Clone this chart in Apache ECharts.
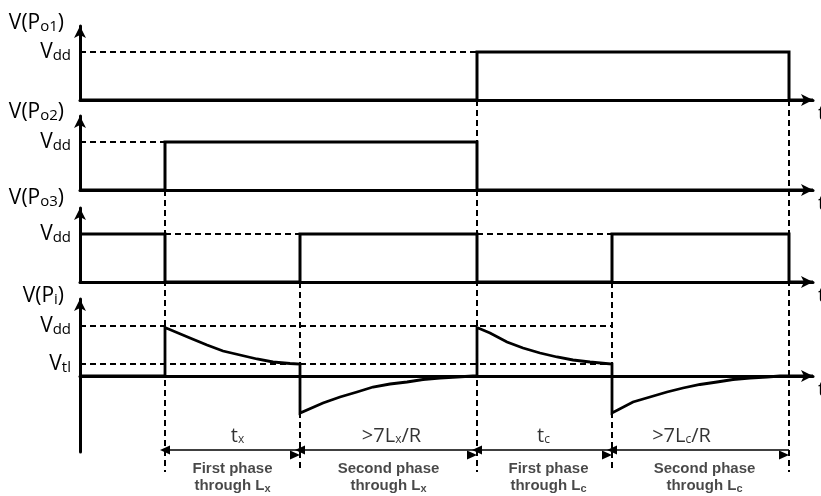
<!DOCTYPE html>
<html><head><meta charset="utf-8">
<script src="https://cdn.jsdelivr.net/npm/echarts@6/dist/echarts.min.js"></script>
<style>html,body{margin:0;padding:0;background:#fff;} #c{width:821px;height:496px;}</style>
</head><body><div id="c"></div>
<script>
// ---------------- data ----------------
const tEdges = [85, 220, 397, 532, 709];   // switching instants
const tEnd = 733;
const VDD = 1, VTL = 0.24;
const panelSubs = ['o1', 'o2', 'o3', 'i'];
const panelLevels = [[VDD], [VDD], [VDD], [VTL, VDD]];
const levelSubs = { '1': 'dd', '0.24': 'tl' };

const po1 = [[0,0],[397,0],[397,1],[709,1],[709,0],[733,0]];
const po2 = [[0,0],[85,0],[85,1],[397,1],[397,0],[733,0]];
const po3 = [[0,1],[85,1],[85,0],[220,0],[220,1],[397,1],[397,0],[532,0],[532,1],[709,1],[709,0],[733,0]];
const pi  = [[0,0],[85,0],[85,0.97],[110,0.76],[127,0.62],[143,0.5],[160,0.42],[177,0.34],[193,0.28],[210,0.25],[220,0.24],
  [220,-0.74],[243,-0.54],[260,-0.42],[277,-0.32],[293,-0.22],[310,-0.16],[327,-0.12],[343,-0.07],[360,-0.04],[377,-0.02],[393,0],
  [397,0],[397,0.97],[410,0.86],[427,0.68],[443,0.56],[460,0.46],[477,0.38],[493,0.32],[510,0.28],[532,0.24],
  [532,-0.74],[553,-0.52],[570,-0.42],[587,-0.32],[603,-0.24],[620,-0.17],[637,-0.12],[653,-0.07],[670,-0.04],[687,-0.02],[700,0],[733,0]];
const waves = [po1, po2, po3, pi];

// dashed reference levels: [panel, level, tFrom, tTo]
const refDash = [[0,VDD,0,397],[1,VDD,0,85],[2,VDD,85,220],[2,VDD,397,532],[3,VDD,0,532],[3,VTL,0,532]];
// vertical guides: [t, panel whose baseline they start from]
const guides = [[85,1],[220,2],[397,0],[532,2],[709,0]];
const spanLabels = ['t{s|x}', '>7L{s|x}/R', 't{s|c}', '>7L{s|c}/R'];
const captionTop = ['First phase', 'Second phase', 'First phase', 'Second phase'];
const captionBottom = ['through L{s|x}', 'through L{s|x}', 'through L{s|c}', 'through L{s|c}'];

// ---------------- layout / style ----------------
const FONT = 'Open Sans';
const layout = [
  { base: 100, scale: 48, yMin: 0, nameGap: 3 },
  { base: 190, scale: 48, yMin: 0, nameGap: 4 },
  { base: 282, scale: 48, yMin: 0, nameGap: 10 },
  { base: 376, scale: 50, yMin: -1.52, nameGap: 3 }
];
const yMax = 1.54;
const LEFT = 80, RIGHT = 8, H = 496;
const rows = { dim: 450, spanText: 436, cap1: 469, cap2: 486, guideEnd: 472 };
const spanDx = [5, 3, -1, -19];
const capDx = [0, 0, 4, 4];
const AX = { color: '#000', width: 3 };
const DASH = { color: '#000', width: 2, type: [6, 4] };

const grids = layout.map(p => ({ left: LEFT, right: RIGHT, top: p.base - yMax * p.scale, height: (yMax - p.yMin) * p.scale, outerBoundsMode: 'none', containLabel: false }));
grids.push({ left: LEFT, right: RIGHT, top: 0, height: H, outerBoundsMode: 'none', containLabel: false });
const OV = 4;

const subRichL = { s: { fontFamily: FONT, fontSize: 15, lineHeight: 15, verticalAlign: 'bottom', color: '#000' } };

const xAxes = layout.map((p, k) => ({
  gridIndex: k, type: 'value', min: 0, max: tEnd,
  axisLine: { show: true, onZero: true, symbol: ['none', 'arrow'], symbolSize: [9, 12], lineStyle: AX },
  axisTick: { show: false }, axisLabel: { show: false }, splitLine: { show: false },
  name: 't', nameLocation: 'end', nameGap: 5,
  nameTextStyle: { fontFamily: FONT, fontSize: 20, color: '#000', verticalAlign: 'top', align: 'left', padding: [4, 0, 0, 0] }
}));
xAxes.push({ gridIndex: OV, type: 'value', min: 0, max: tEnd, show: false });

const yAxes = layout.map((p, k) => ({
  gridIndex: k, type: 'value', min: p.yMin, max: yMax,
  axisLine: { show: true, onZero: false, symbol: ['none', 'arrow'], symbolSize: [9, 12], lineStyle: AX },
  axisTick: { show: false }, splitLine: { show: false },
  axisLabel: {
    show: true, customValues: panelLevels[k], margin: 9,
    fontFamily: FONT, fontSize: 21, lineHeight: 22, color: '#000',
    formatter: v => 'V{s|' + levelSubs[String(v)] + '}', rich: subRichL
  },
  name: 'V(P{s|' + panelSubs[k] + '})', nameLocation: 'end', nameGap: p.nameGap,
  nameTextStyle: { fontFamily: FONT, fontSize: 21, lineHeight: 22, color: '#000', align: 'right', verticalAlign: 'middle', padding: [0, 16, 0, 0], rich: subRichL }
}));
yAxes.push({ gridIndex: OV, type: 'value', min: 0, max: H, inverse: true, show: false });

const series = [];
waves.forEach((w, k) => series.push({
  type: 'line', xAxisIndex: k, yAxisIndex: k, data: w, symbol: 'none', z: 4,
  lineStyle: { color: '#000', width: k === 3 ? 2.8 : 3, join: 'miter' }
}));
refDash.forEach(([k, lv, a, b]) => series.push({
  type: 'line', xAxisIndex: k, yAxisIndex: k, data: [[a, lv], [b, lv]], symbol: 'none', z: 2, lineStyle: DASH
}));
guides.forEach(([t, k]) => series.push({
  type: 'line', xAxisIndex: OV, yAxisIndex: OV, data: [[t, layout[k].base], [t, rows.guideEnd]], symbol: 'none', z: 2, lineStyle: DASH
}));
// dimension arrows
series.push({
  type: 'line', xAxisIndex: OV, yAxisIndex: OV, data: [], symbol: 'none',
  markLine: {
    silent: true, symbol: ['triangle', 'triangle'], symbolSize: [9, 10], symbolOffset: [0, 5],
    lineStyle: { color: '#000', width: 1.6, type: 'solid' }, label: { show: false },
    data: tEdges.slice(0, -1).map((a, i) => [{ coord: [a, rows.dim] }, { coord: [tEdges[i + 1], rows.dim] }])
  }
});
function textSeries(texts, row, dxs, style, rich) {
  return {
    type: 'scatter', xAxisIndex: OV, yAxisIndex: OV, symbolSize: 0.1, itemStyle: { color: 'transparent' }, z: 5,
    data: texts.map((txt, i) => ({
      value: [(tEdges[i] + tEdges[i + 1]) / 2, row],
      label: { show: true, position: 'inside', offset: [dxs[i], 0], formatter: () => txt, ...style, rich }
    }))
  };
}
series.push(textSeries(spanLabels, rows.spanText, spanDx,
  { fontFamily: FONT, fontSize: 20, lineHeight: 20, color: '#000' },
  { s: { fontFamily: FONT, fontSize: 12, lineHeight: 15, verticalAlign: 'bottom', color: '#000' } }));
const capStyle = { fontFamily: 'Liberation Sans', fontWeight: 'bold', fontSize: 15, lineHeight: 16, color: '#1a1a1a' };
const capRich = { s: { fontFamily: 'Liberation Sans', fontWeight: 'bold', fontSize: 11, lineHeight: 13, verticalAlign: 'bottom', color: '#1a1a1a' } };
series.push(textSeries(captionTop, rows.cap1, capDx, capStyle, capRich));
series.push(textSeries(captionBottom, rows.cap2, capDx, capStyle, capRich));

const chart = echarts.init(document.getElementById('c'), null, { renderer: 'canvas' });
chart.setOption({
  animation: false, backgroundColor: '#fff',
  grid: grids, xAxis: xAxes, yAxis: yAxes, series
});
</script></body></html>
